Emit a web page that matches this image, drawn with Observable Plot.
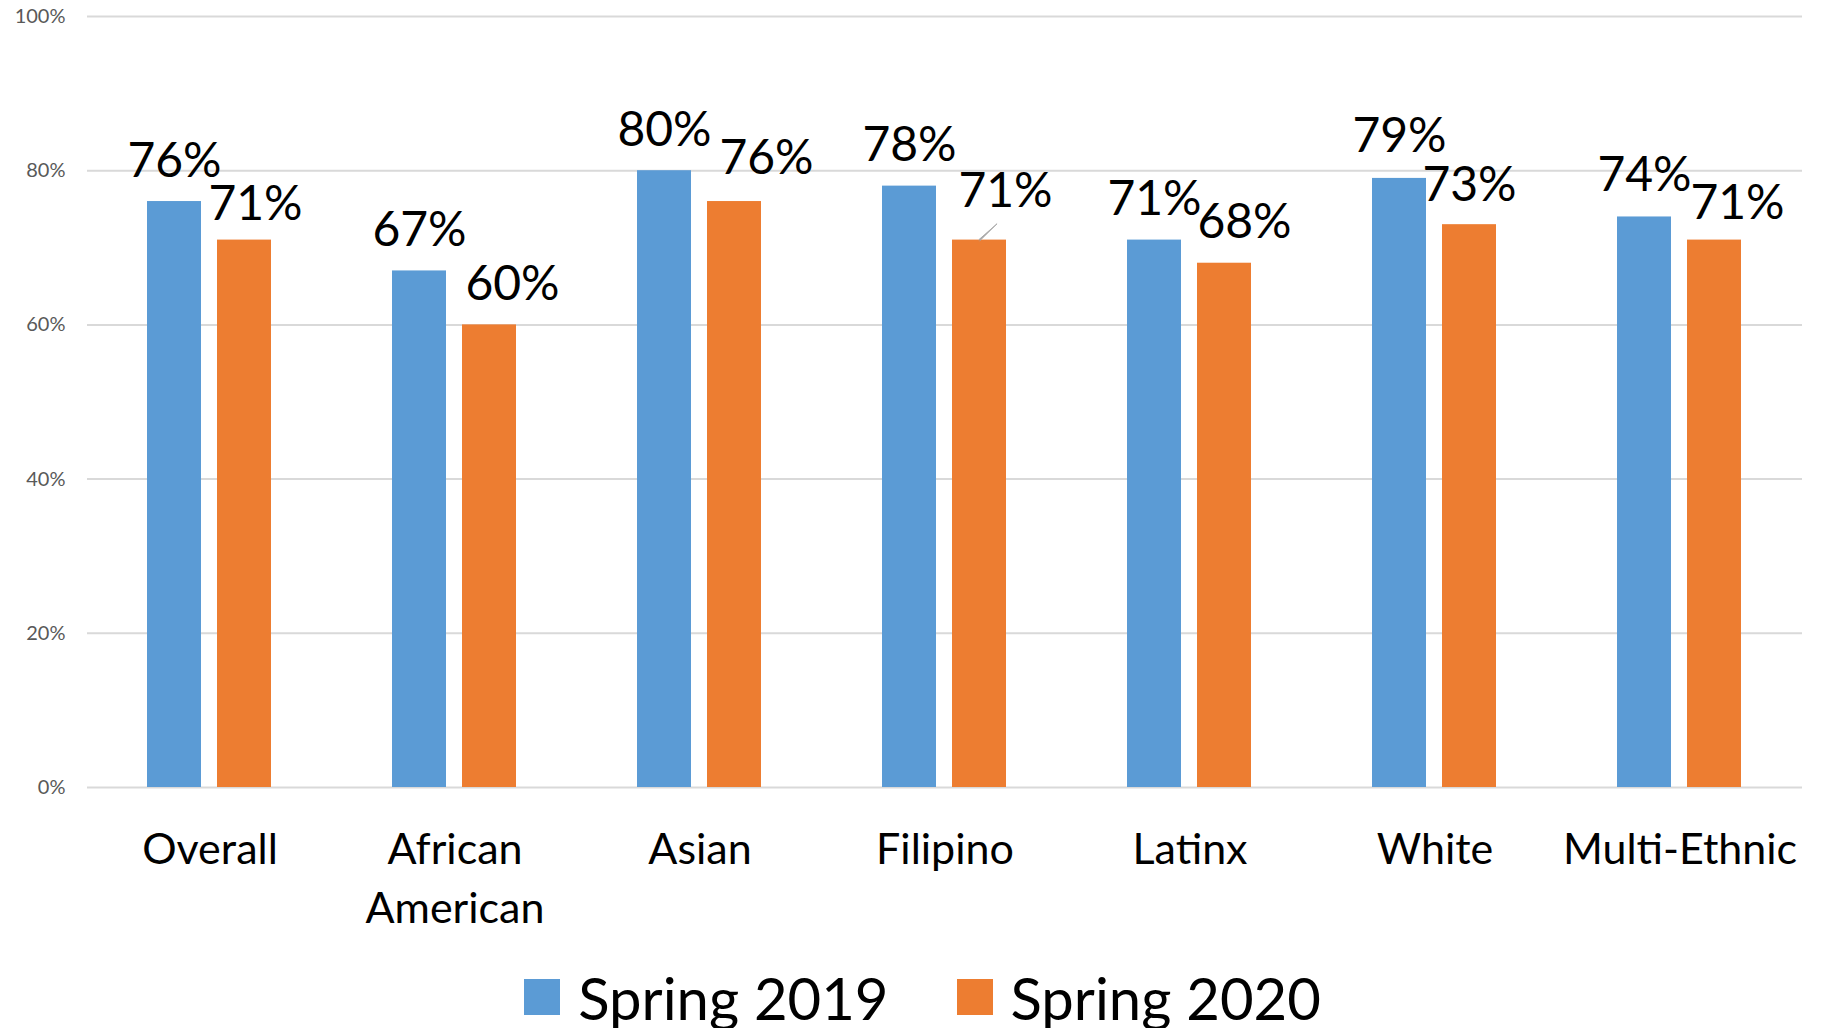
<!DOCTYPE html>
<html>
<head>
<meta charset="utf-8">
<script src="https://cdn.jsdelivr.net/npm/d3@7"></script>
<script src="https://cdn.jsdelivr.net/npm/@observablehq/plot@0.6"></script>
<style>
  html, body { margin: 0; padding: 0; background: #fff; }
  #wrap { position: relative; width: 1821px; height: 1028px; font-family: Lato, sans-serif; }
  #legend { position: absolute; left: 0; top: 978px; width: 1821px; height: 38px; box-sizing: border-box; padding-left: 24px;
            display: flex; justify-content: center; align-items: center; gap: 68px; }
  .item { display: flex; align-items: center; gap: 18px; font-size: 58px; color: #000; }
  .sw { width: 36px; height: 36px; }
</style>
</head>
<body>
<div id="wrap"><div id="chart"></div><div id="legend"></div></div>
<script>
const categories = ["Overall", "African American", "Asian", "Filipino", "Latinx", "White", "Multi-Ethnic"];
const seriesNames = ["Spring 2019", "Spring 2020"];
const spring2019 = [76, 67, 80, 78, 71, 79, 74];
const spring2020 = [71, 60, 76, 71, 68, 73, 71];
const yTicks = [0, 20, 40, 60, 80, 100];
const colors = ["#5B9BD5", "#ED7D31"];

// label nudges (layout only), [dx, dy] in px
const nudge2019 = [[0,-25],[0,-25],[0,-25],[0,-25],[0,-25],[0,-26],[0,-26]];
const nudge2020 = [[11,-20],[23,-25],[32,-28],[26,-33],[20,-25],[0,-24],[23,-21]];

const rows = categories.flatMap((c, i) => [
  {cat: c, series: seriesNames[0], value: spring2019[i], nudge: nudge2019[i]},
  {cat: c, series: seriesNames[1], value: spring2020[i], nudge: nudge2020[i]}
]);

const labelMarks = rows.map(r => Plot.text([r], {
  fx: "cat", x: "series", y: "value",
  text: d => d.value + "%",
  dx: r.nudge[0], dy: r.nudge[1],
  lineAnchor: "bottom", fontSize: 48, fill: "#000"
}));

const chart = Plot.plot({
  width: 1821,
  height: 950,
  marginTop: 16,
  marginBottom: 163,
  marginLeft: 86,
  marginRight: 18,
  style: {fontFamily: "Lato, sans-serif", background: "#fff"},
  fx: {domain: categories, padding: 0, label: null},
  x: {domain: seriesNames, paddingInner: 0.2266, paddingOuter: 0.848, axis: null},
  y: {domain: [0, 100], label: null},
  color: {domain: seriesNames, range: colors},
  marks: [
    Plot.gridY(yTicks, {stroke: "#d9d9d9", strokeOpacity: 1, strokeWidth: 2}),
    Plot.axisY(yTicks, {tickSize: 0, tickPadding: 22, tickFormat: d => d + "%", fontSize: 20, fill: "#595959", label: null}),
    Plot.axisFx({anchor: "bottom", tickSize: 0, tickPadding: 35, fontSize: 43, lineHeight: 1.36,
                 tickFormat: d => d.replace(" ", "\n"), label: null, fill: "#000"}),
    Plot.barY(rows, {fx: "cat", x: "series", y: "value", fill: "series"}),
    Plot.vector(rows.filter(d => d.cat === "Filipino" && d.series === "Spring 2020"), {
      fx: "cat", x: "series", y: "value", rotate: 47, length: 24, anchor: "start",
      shape: "spike", r: 0.7, fill: "#a6a6a6", stroke: "#a6a6a6", strokeWidth: 0.8
    }),
    ...labelMarks
  ]
});
document.getElementById("chart").appendChild(chart);

const legend = document.getElementById("legend");
seriesNames.forEach((s, i) => {
  const item = document.createElement("div");
  item.className = "item";
  const sw = document.createElement("div");
  sw.className = "sw";
  sw.style.background = colors[i];
  const t = document.createElement("span");
  t.textContent = s;
  item.appendChild(sw);
  item.appendChild(t);
  legend.appendChild(item);
});
</script>
</body>
</html>
